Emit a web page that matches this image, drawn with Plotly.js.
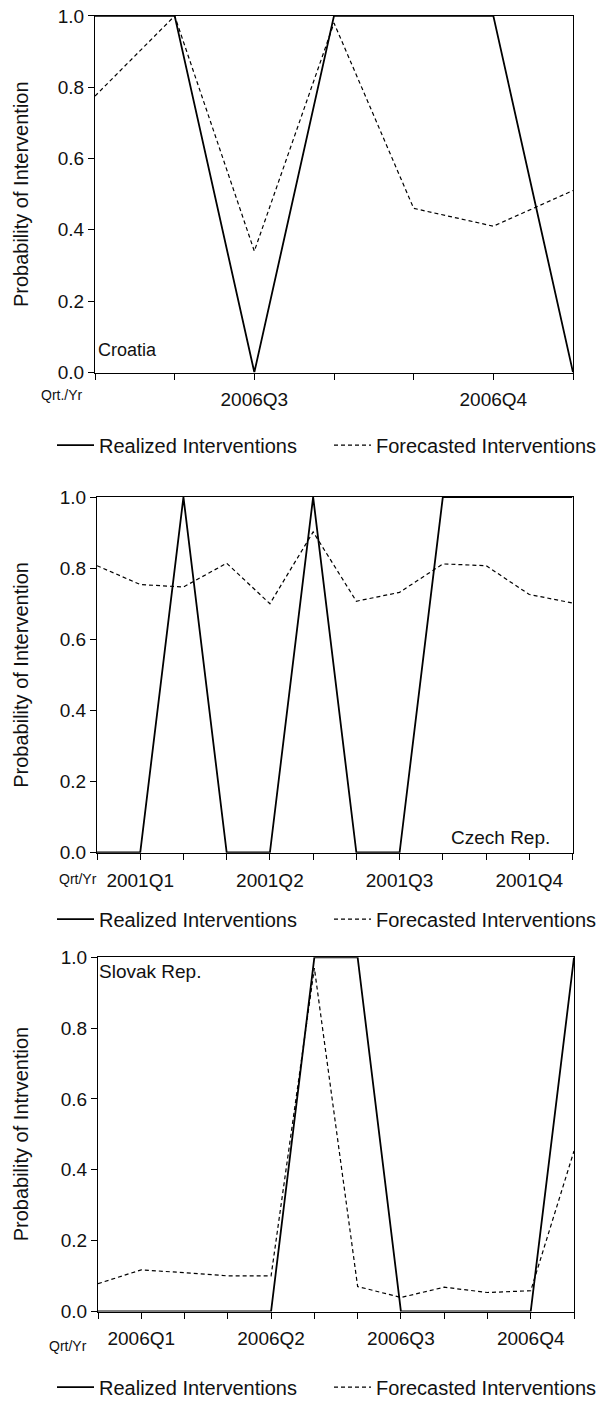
<!DOCTYPE html>
<html>
<head>
<meta charset="utf-8">
<script src="https://cdn.plot.ly/plotly-3.0.1.min.js"></script>
<style>
  html, body { margin: 0; padding: 0; background: #fff; }
  #chart { width: 609px; height: 1407px; }
</style>
</head>
<body>
<div id="chart"></div>
<script>
// Croatia: seven observations across 2006Q3-2006Q4
const hrPeriods = [0, 1, 2, 3, 4, 5, 6];
const hrTickText = ["", "", "2006Q3", "", "", "2006Q4", ""];
const hrRealized = [1, 1, 0, 1, 1, 1, 0];
const hrForecast = [0.775, 1.0, 0.34, 0.98, 0.46, 0.41, 0.51];

// Czech Republic: twelve observations across 2001
const czPeriods = [0, 1, 2, 3, 4, 5, 6, 7, 8, 9, 10, 11];
const czTickText = ["", "2001Q1", "", "", "2001Q2", "", "", "2001Q3", "", "", "2001Q4", ""];
const czRealized = [0, 0, 1, 0, 0, 1, 0, 0, 1, 1, 1, 1];
const czForecast = [0.807, 0.754, 0.747, 0.814, 0.70, 0.902, 0.707, 0.732, 0.812, 0.807, 0.726, 0.702];

// Slovak Republic: twelve observations across 2006
const skPeriods = [0, 1, 2, 3, 4, 5, 6, 7, 8, 9, 10, 11];
const skTickText = ["", "2006Q1", "", "", "2006Q2", "", "", "2006Q3", "", "", "2006Q4", ""];
const skRealized = [0, 0, 0, 0, 0, 1, 1, 0, 0, 0, 0, 1];
const skForecast = [0.078, 0.117, 0.109, 0.10, 0.10, 0.97, 0.07, 0.039, 0.068, 0.053, 0.058, 0.453];

const yTickVals = [0, 0.2, 0.4, 0.6, 0.8, 1.0];
const yTickText = ["0.0", "0.2", "0.4", "0.6", "0.8", "1.0"];

const FONT = "Liberation Sans, Arial, sans-serif";
const INK = "#111";
const W = 609, H = 1407;
const px = v => v / W;          // horizontal pixel -> paper fraction
const py = v => 1 - v / H;      // vertical pixel -> paper fraction

function realizedTrace(x, y, n) {
  return {
    x: x, y: y, type: "scatter", mode: "lines",
    name: "Realized Interventions",
    line: { color: "#000", width: 1.8 },
    xaxis: n === 1 ? "x" : "x" + n, yaxis: n === 1 ? "y" : "y" + n,
    legend: n === 1 ? "legend" : "legend" + n,
    hoverinfo: "skip"
  };
}
function forecastTrace(x, y, n) {
  return {
    x: x, y: y, type: "scatter", mode: "lines",
    name: "Forecasted Interventions",
    line: { color: "#000", width: 1.2, dash: "4px,3px" },
    xaxis: n === 1 ? "x" : "x" + n, yaxis: n === 1 ? "y" : "y" + n,
    legend: n === 1 ? "legend" : "legend" + n,
    hoverinfo: "skip"
  };
}

function xAxis(periods, tickText, domain, anchor) {
  return {
    domain: domain, anchor: anchor,
    range: [periods[0], periods[periods.length - 1]],
    tickmode: "array", tickvals: periods, ticktext: tickText,
    ticks: "outside", ticklen: 6, tickwidth: 1, tickcolor: "#000",
    ticklabelstandoff: 4,
    showline: true, linecolor: "#000", linewidth: 1, mirror: true,
    showgrid: false, zeroline: false, fixedrange: true,
    tickfont: { family: FONT, size: 19, color: INK }
  };
}
// a hair of padding lets the 0/1 runs merge with the frame instead of being clipped
function yAxis(domain, anchor) {
  return {
    domain: domain, anchor: anchor,
    range: [-0.0008, 1.0008],
    tickmode: "array", tickvals: yTickVals, ticktext: yTickText,
    ticks: "outside", ticklen: 6, tickwidth: 1, tickcolor: "#000",
    showline: true, linecolor: "#000", linewidth: 1, mirror: true,
    showgrid: false, zeroline: false, fixedrange: true,
    tickfont: { family: FONT, size: 19, color: INK }
  };
}
function legendAt(yPix) {
  return {
    orientation: "h", x: px(52), xanchor: "left", y: py(yPix), yanchor: "middle",
    itemwidth: 37, entrywidth: 225, entrywidthmode: "pixels",
    font: { family: FONT, size: 20, color: INK },
    bgcolor: "rgba(0,0,0,0)", borderwidth: 0, itemclick: false, itemdoubleclick: false
  };
}

// Panel boxes in pixels: [left, right, top, bottom]
const box1 = [95, 573, 15.7, 375];
const box2 = [97, 572.5, 500, 858.3];
const box3 = [98, 574, 963.3, 1320];
const xd = b => [px(b[0]), px(b[1])];
const yd = b => [py(b[3]), py(b[2])];
const ymid = b => py((b[2] + b[3]) / 2);

function note(text, xPix, yPix, anchor, size) {
  return {
    text: text, xref: "paper", yref: "paper", x: px(xPix), y: py(yPix),
    xanchor: anchor, yanchor: "middle", showarrow: false,
    font: { family: FONT, size: size, color: INK }
  };
}
function yTitle(text, b) {
  return {
    text: text, xref: "paper", yref: "paper", x: px(21), y: ymid(b),
    xanchor: "center", yanchor: "middle", textangle: -90, showarrow: false,
    font: { family: FONT, size: 20, color: INK }
  };
}

const data = [
  realizedTrace(hrPeriods, hrRealized, 1), forecastTrace(hrPeriods, hrForecast, 1),
  realizedTrace(czPeriods, czRealized, 2), forecastTrace(czPeriods, czForecast, 2),
  realizedTrace(skPeriods, skRealized, 3), forecastTrace(skPeriods, skForecast, 3)
];

const layout = {
  width: W, height: H,
  margin: { l: 0, r: 0, t: 0, b: 0 },
  paper_bgcolor: "#fff", plot_bgcolor: "#fff",
  font: { family: FONT, color: INK },
  showlegend: true,
  xaxis: xAxis(hrPeriods, hrTickText, xd(box1), "y"),
  yaxis: yAxis(yd(box1), "x"),
  xaxis2: xAxis(czPeriods, czTickText, xd(box2), "y2"),
  yaxis2: yAxis(yd(box2), "x2"),
  xaxis3: xAxis(skPeriods, skTickText, xd(box3), "y3"),
  yaxis3: yAxis(yd(box3), "x3"),
  legend: legendAt(448),
  legend2: legendAt(925),
  legend3: legendAt(1396),
  annotations: [
    yTitle("Probability of Intervention", box1),
    yTitle("Probability of Intervention", box2),
    yTitle("Probability of Intrvention", box3),
    note("Croatia", 96, 352, "left", 18),
    note("Czech Rep.", 552, 843, "right", 19),
    note("Slovak Rep.", 97, 978, "left", 19),
    note("Qrt./Yr", 62, 398, "center", 14),
    note("Qrt/Yr", 78, 885, "center", 14),
    note("Qrt/Yr", 68, 1355, "center", 14)
  ]
};

Plotly.newPlot("chart", data, layout, { displayModeBar: false, staticPlot: true });
</script>
</body>
</html>
